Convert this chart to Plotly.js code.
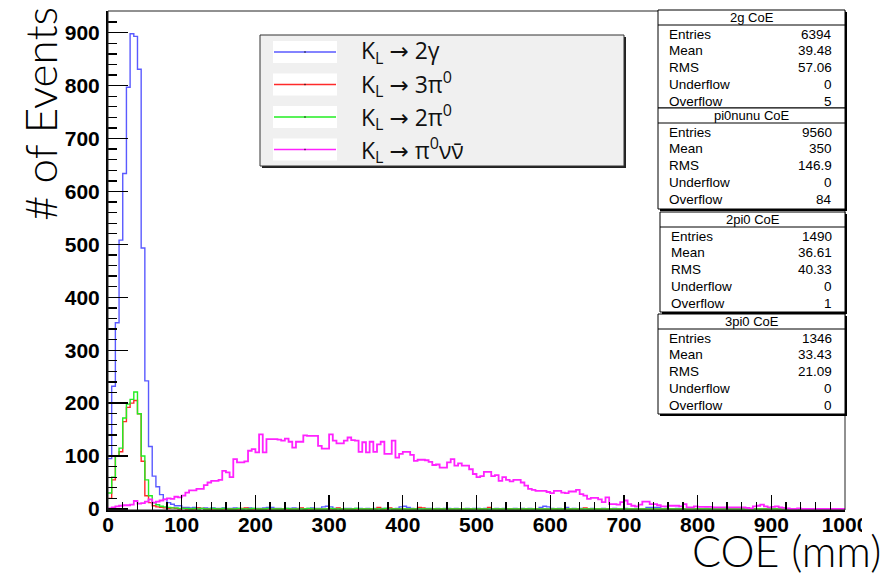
<!DOCTYPE html>
<html>
<head>
<meta charset="utf-8">
<script src="https://cdn.plot.ly/plotly-3.0.1.min.js"></script>
<style>html,body{margin:0;padding:0;background:#fff;}#chart{width:893px;height:574px;}</style>
</head>
<body>
<div id="chart"></div>
<script>
// ---------------- DATA ----------------
const binWidth = 5;          // mm per bin (200 bins over 0-1000 mm)
const nBins = 200;

function pad(arr){ const a = arr.slice(); while(a.length < nBins) a.push(0); return a; }

// K_L -> 2gamma  ("2g CoE")
const vals2g = pad([
  95, 232, 352, 508, 634, 797, 898, 893, 831, 493,
  242, 118, 62, 42, 27, 18, 12, 9, 6, 6,
  3, 3, 2, 3, 2, 1, 2, 1, 2, 1,
  1, 2, 1, 1, 2, 1, 0, 1, 2, 1,
  1, 1, 2, 3, 3, 1, 1, 0, 1, 1,
  2, 1, 1, 0, 1, 2, 1, 1, 4, 5,
  4, 1, 1, 0, 1, 1, 0, 1, 1, 0,
  1, 0, 1, 1, 1, 1, 1, 0, 1, 4,
  5, 3, 1, 0, 1, 0, 1, 1, 0, 1,
  0, 1, 1, 0, 1, 0, 0, 1, 0, 1,
  1, 0, 1, 0, 0, 1, 0, 1, 0, 0,
  1, 0, 1, 0, 1, 0, 0, 3, 5, 4,
  1, 0, 1, 0, 3, 0, 1, 0, 1, 0,
  0, 1, 0, 0, 1, 0, 0, 1, 0, 0,
  1, 0, 0, 1, 0, 0, 3, 3, 3, 3,
  0, 1, 0, 0, 1, 0, 0, 0, 1, 0,
  0, 0, 1, 0, 0, 0, 0, 1, 0, 0,
  0, 0, 0, 1, 0, 0, 0, 0, 0, 1
]);

// K_L -> 3pi0  ("3pi0 CoE")
const vals3pi0 = pad([
  20, 55, 100, 108, 165, 192, 200, 205, 180, 90,
  25, 12, 6, 4, 3, 2, 1, 2, 1, 0,
  1, 0, 0, 0, 2, 1, 0, 0, 0, 0,
  0, 0, 0, 0, 0, 0, 1, 2, 0, 0,
  0, 0, 0, 0, 0, 0, 0, 0, 0, 0,
  0, 0, 2, 0, 0, 0, 0, 0, 0, 0,
  0, 0, 2, 0, 0, 0, 0, 0, 0, 0,
  0, 0, 0, 3, 0, 0, 2, 0, 0, 0,
  0, 0, 0, 0, 3, 2, 0, 0, 0, 0,
  0, 0, 0, 0, 0, 0, 0, 0, 0, 0,
  0, 0, 0, 3, 0, 0, 0, 0, 0, 0,
  0, 0, 0, 0, 0, 0, 0, 0, 0, 0,
  0, 0, 0, 0, 0, 0, 0, 0, 0, 2
]);

// K_L -> 2pi0  ("2pi0 CoE")
const vals2pi0 = pad([
  30, 60, 100, 115, 172, 198, 207, 221, 180, 100,
  55, 25, 12, 8, 5, 4, 3, 2, 2, 1,
  1, 1, 0, 1, 0, 1, 0, 0, 1, 0,
  0, 1, 0, 0, 0, 1, 0, 0, 0, 1,
  0, 0, 0, 1, 0, 0, 0, 0, 1, 0,
  0, 0, 0, 0, 1, 0, 0, 0, 0, 0,
  1, 0, 0, 0, 0, 0, 0, 1, 0, 0,
  0, 0, 0, 0, 0, 1, 0, 0, 0, 0
]);

// K_L -> pi0 nu nubar  ("pi0nunu CoE")
const valsPi0nn = pad([
  1, 3, 5, 6, 7, 7, 8, 15, 10, 11,
  14, 18, 12, 14, 16, 18, 20, 19, 23, 22,
  25, 31, 35, 35, 38, 38, 45, 50, 53, 53,
  55, 72, 69, 60, 94, 88, 88, 90, 110, 113,
  107, 141, 107, 132, 132, 132, 131, 129, 133, 127,
  116, 127, 127, 139, 138, 138, 138, 119, 114, 114,
  141, 129, 124, 124, 129, 135, 130, 129, 108, 126,
  107, 127, 108, 122, 127, 104, 104, 129, 97, 104,
  108, 108, 102, 91, 93, 93, 92, 89, 83, 84,
  78, 78, 88, 94, 82, 86, 82, 82, 75, 66,
  60, 62, 70, 70, 62, 64, 53, 60, 55, 52,
  55, 55, 50, 44, 38, 36, 34, 34, 34, 32,
  30, 34, 34, 31, 30, 33, 33, 36, 28, 25,
  19, 21, 21, 18, 13, 22, 9, 9, 8, 13,
  16, 9, 6, 5, 8, 14, 14, 9, 9, 7,
  5, 5, 6, 6, 6, 5, 9, 3, 3, 5,
  4, 4, 4, 4, 3, 3, 3, 3, 3, 3,
  3, 3, 3, 2, 1, 5, 6, 8, 5, 3,
  4, 5, 3, 2, 1, 0, 0, 1, 0, 0
]);

const seriesNames  = ['K<sub>L</sub> → 2γ', 'K<sub>L</sub> → 3π<sup>0</sup>', 'K<sub>L</sub> → 2π<sup>0</sup>', 'K<sub>L</sub> → π<sup>0</sup>νν̄'];
const seriesColors = ['#5a5aff', '#ff2a2a', '#22ee22', '#ff22ff'];

// Stats boxes
const statNames     = ['2g CoE', 'pi0nunu CoE', '2pi0 CoE', '3pi0 CoE'];
const statRowLabels = ['Entries', 'Mean', 'RMS', 'Underflow', 'Overflow'];
const statEntries   = ['6394', '9560', '1490', '1346'];
const statMean      = ['39.48', '350', '36.61', '33.43'];
const statRMS       = ['57.06', '146.9', '40.33', '21.09'];
const statUnder     = ['0', '0', '0', '0'];
const statOver      = ['5', '84', '1', '0'];

const xTitle = 'COE (mm)';
const yTitle = '# of Events';

// ---------------- BUILD ----------------
function step(vals){
  const x = [], y = [];
  for (let i = 0; i < vals.length; i++){ x.push(i*binWidth); y.push(vals[i]); }
  x.push(vals.length*binWidth); y.push(vals[vals.length-1]);
  return {x, y};
}
const allVals = [vals2g, vals3pi0, vals2pi0, valsPi0nn];
const traces = allVals.map((v, i) => {
  const s = step(v);
  return {type:'scatter', mode:'lines', x:s.x, y:s.y, line:{shape:'hv', color:seriesColors[i], width: i===3 ? 1.8 : 1.4}, hoverinfo:'skip', showlegend:false};
});

const W = 893, H = 574, L = 108, R = 48, T = 11, B = 64;
const pw = W - L - R, ph = H - T - B;
const PX = x => (x - L)/pw;
const PY = y => (H - B - y)/ph;

const shapes = [];
const ann = [];

// plot frame (top/right)
shapes.push({type:'rect', xref:'paper', yref:'paper', x0:0, x1:1, y0:0, y1:1, line:{color:'#222', width:1}, layer:'above'});

// legend box
const lg = {x0:260, x1:624, y0:35, y1:166};
shapes.push({type:'rect', xref:'paper', yref:'paper', x0:PX(lg.x0+2), x1:PX(lg.x1+2), y0:PY(lg.y1+2), y1:PY(lg.y0+2), fillcolor:'#222', line:{width:0}, layer:'above'});
shapes.push({type:'rect', xref:'paper', yref:'paper', x0:PX(lg.x0), x1:PX(lg.x1), y0:PY(lg.y1), y1:PY(lg.y0), fillcolor:'#f0f0f0', line:{color:'#333', width:1}, layer:'above'});
const rowY = [52, 84.5, 117, 149.5];
seriesNames.forEach((nm, i) => {
  const cy = rowY[i];
  shapes.push({type:'rect', xref:'paper', yref:'paper', x0:PX(273), x1:PX(337), y0:PY(cy+11), y1:PY(cy-11), fillcolor:'#ffffff', line:{width:0}, layer:'above'});
  shapes.push({type:'line', xref:'paper', yref:'paper', x0:PX(274), x1:PX(336), y0:PY(cy), y1:PY(cy), line:{color:seriesColors[i], width:1.5}, layer:'above'});
  shapes.push({type:'rect', xref:'paper', yref:'paper', x0:PX(304.5), x1:PX(305.5), y0:PY(cy+0.7), y1:PY(cy-0.7), fillcolor:'#000', line:{width:0}, layer:'above'});
  ann.push({xref:'paper', yref:'paper', x:PX(359), y:PY(cy), xanchor:'left', yanchor:'middle', showarrow:false, text:nm,
    font:{family:'Open Sans, Noto Sans, DejaVu Sans', size:23, color:'#111'}});
});

// stats boxes
const boxTop = [10, 108, 212, 314];
const boxBot = [108, 209, 312, 414];
const boxLeft = [658, 658, 660, 658];
const boxRight = 845;
const statCols = [statEntries, statMean, statRMS, statUnder, statOver];
statNames.forEach((nm, b) => {
  const t = boxTop[b], bt = boxBot[b], l = boxLeft[b];
  shapes.push({type:'rect', xref:'paper', yref:'paper', x0:PX(l+2), x1:PX(boxRight+2), y0:PY(bt+2), y1:PY(t+2), fillcolor:'#000', line:{width:0}, layer:'above'});
  shapes.push({type:'rect', xref:'paper', yref:'paper', x0:PX(l), x1:PX(boxRight), y0:PY(bt), y1:PY(t), fillcolor:'#fff', line:{color:'#000', width:1}, layer:'above'});
  shapes.push({type:'line', xref:'paper', yref:'paper', x0:PX(l), x1:PX(boxRight), y0:PY(t+15), y1:PY(t+15), line:{color:'#000', width:1}, layer:'above'});
  ann.push({xref:'paper', yref:'paper', x:PX((l+boxRight)/2), y:PY(t+7.5), xanchor:'center', yanchor:'middle', showarrow:false, text:nm,
    font:{family:'Liberation Sans, Arial', size:13, color:'#000'}});
  statRowLabels.forEach((rl, r) => {
    const yy = t + 24 + r*16.9;
    ann.push({xref:'paper', yref:'paper', x:PX(l+9), y:PY(yy), xanchor:'left', yanchor:'middle', showarrow:false, text:rl,
      font:{family:'Liberation Sans, Arial', size:13.5, color:'#000'}});
    ann.push({xref:'paper', yref:'paper', x:PX(834), y:PY(yy), xanchor:'right', yanchor:'middle', showarrow:false, text:statCols[r][b],
      font:{family:'Liberation Sans, Arial', size:13.5, color:'#000'}});
  });
});

// crop of the right-most tick label as in the reference
shapes.push({type:'rect', xref:'paper', yref:'paper', x0:PX(862), x1:PX(900), y0:PY(574), y1:PY(511), fillcolor:'#fff', line:{width:0}, layer:'above'});

// axis titles
ann.push({xref:'paper', yref:'paper', x:PX(40), y:PY(114), xanchor:'center', yanchor:'middle', showarrow:false, textangle:-90, text:yTitle,
  font:{family:'Lato, Open Sans, Noto Sans', size:44, color:'#000', weight:300}});
ann.push({xref:'paper', yref:'paper', x:PX(786), y:PY(550), xanchor:'center', yanchor:'middle', showarrow:false, text:xTitle,
  font:{family:'Lato, Open Sans, Noto Sans', size:43, color:'#000', weight:300}});

const tickFont = {family:'Liberation Sans, Arial', size:21, color:'#000', weight:700};
const layout = {
  width:W, height:H,
  margin:{l:L, r:R, t:T, b:B, pad:0},
  paper_bgcolor:'#fff', plot_bgcolor:'#fff',
  showlegend:false,
  xaxis:{range:[0,1000], tick0:0, dtick:100, ticks:'inside', ticklen:15, tickwidth:1.3, tickcolor:'#000',
    showline:true, linewidth:2, linecolor:'#000', showgrid:false, zeroline:false, tickfont:tickFont, ticklabelstandoff:-5,
    minor:{ticks:'inside', ticklen:8, dtick:20, tick0:0, tickwidth:1.3, tickcolor:'#000', showgrid:false}},
  yaxis:{range:[-2,941], tick0:0, dtick:100, ticks:'inside', ticklen:20, tickwidth:1.3, tickcolor:'#000',
    showline:true, linewidth:2, linecolor:'#000', showgrid:false, zeroline:false, tickfont:tickFont, ticklabelstandoff:2,
    minor:{ticks:'inside', ticklen:9, dtick:20, tick0:0, tickwidth:1.3, tickcolor:'#000', showgrid:false}},
  shapes:shapes,
  annotations:ann
};

Plotly.newPlot('chart', traces, layout, {staticPlot:true, displayModeBar:false});
</script>
</body>
</html>
